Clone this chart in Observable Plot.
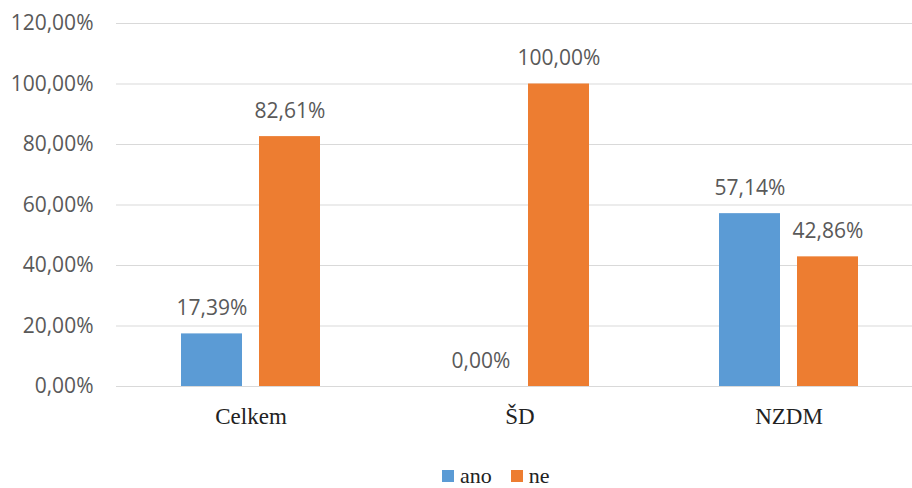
<!DOCTYPE html>
<html>
<head>
<meta charset="utf-8">
<script src="https://cdn.jsdelivr.net/npm/d3@7"></script>
<script src="https://cdn.jsdelivr.net/npm/@observablehq/plot@0.6"></script>
<style>
  html, body { margin: 0; padding: 0; background: #fff; overflow: hidden; }
  #chart svg { display: block; }
  #legend { display: flex; align-items: center; height: 20px; line-height: 20px; margin-top: 26px; padding-left: 442px;
    font-family: "Liberation Serif", "Times New Roman", serif; font-size: 22px; color: #222; }
  #legend .sw { width: 12px; height: 12px; display: inline-block; margin-right: 6px; }
  #legend .item { display: flex; align-items: center; margin-right: 19px; }
</style>
</head>
<body>
<div id="chart"></div>
<div id="legend"></div>
<script>
const categories = ["Celkem", "ŠD", "NZDM"];
const series = ["ano", "ne"];
const ano = [0.1739, 0.0, 0.5714];
const ne = [0.8261, 1.0, 0.4286];
const yTicks = [0, 0.2, 0.4, 0.6, 0.8, 1.0, 1.2];
const colors = ["#5B9BD5", "#ED7D31"];

const fmt = v => (v * 100).toFixed(2).replace(".", ",") + "%";

const data = categories.flatMap((c, i) => [
  {category: c, series: "ano", value: ano[i]},
  {category: c, series: "ne", value: ne[i]}
]);

const sans = "'Open Sans', 'Liberation Sans', sans-serif";
const serif = "'Liberation Serif', 'Times New Roman', serif";

const chart = Plot.plot({
  width: 912,
  height: 440,
  marginLeft: 116,
  marginRight: 0,
  marginTop: 23,
  marginBottom: 54,
  style: {background: "#fff", overflow: "hidden"},
  fx: {domain: categories, range: [116, 923], padding: 0, label: null},
  x: {domain: series, paddingInner: 0.218, paddingOuter: 0.833, axis: null},
  y: {domain: [0, 1.2], label: null},
  color: {domain: series, range: colors},
  marks: [
    Plot.ruleY(yTicks, {stroke: "#D9D9D9", strokeWidth: 1}),
    Plot.axisY({ticks: yTicks, tickFormat: fmt, tickSize: 0, tickPadding: 23, fontSize: 21,
      fontFamily: sans, fill: "#595959", label: null}),
    Plot.axisFx({anchor: "bottom", tickSize: 0, tickPadding: 21, fontSize: 23,
      fontFamily: serif, fill: "#222", label: null}),
    Plot.barY(data, {fx: "category", x: "series", y: "value", fill: "series"}),
    Plot.text(data, {fx: "category", x: "series", y: "value", text: d => fmt(d.value),
      dy: -19, lineAnchor: "bottom", fontSize: 21, fontFamily: sans, fill: "#595959"})
  ]
});
document.getElementById("chart").appendChild(chart);

const legend = document.getElementById("legend");
series.forEach((s, i) => {
  const item = document.createElement("span");
  item.className = "item";
  const sw = document.createElement("span");
  sw.className = "sw";
  sw.style.background = colors[i];
  item.appendChild(sw);
  item.appendChild(document.createTextNode(s));
  legend.appendChild(item);
});
</script>
</body>
</html>
